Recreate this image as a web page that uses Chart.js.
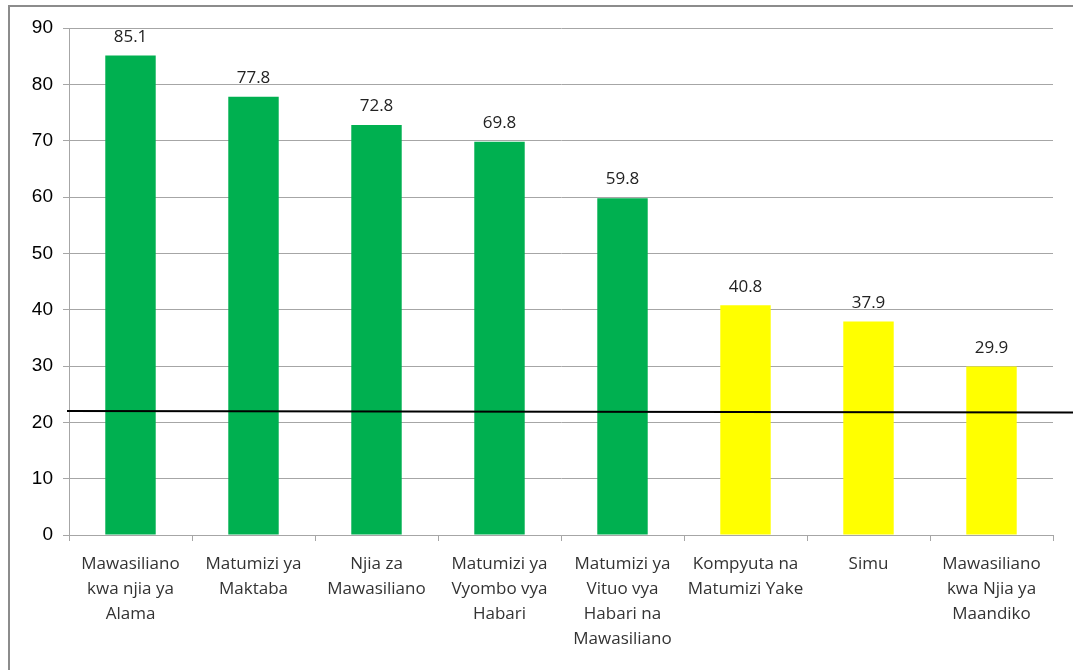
<!DOCTYPE html>
<html>
<head>
<meta charset="utf-8">
<script src="https://cdn.jsdelivr.net/npm/chart.js@4.4.1/dist/chart.umd.min.js"></script>
<style>
  body { margin: 0; background: #fff; }
  #wrap { position: relative; width: 1073px; height: 670px; overflow: hidden; }
  #frame { position: absolute; left: 8px; top: 5px; width: 1200px; height: 800px;
           border-left: 2px solid #8c8c8c; border-top: 2px solid #8c8c8c; }
  canvas { position: absolute; left: 0; top: 0; }
</style>
</head>
<body>
<div id="wrap">
  <div id="frame"></div>
  <canvas id="myChart" width="1073" height="670"></canvas>
</div>
<script>
const categories = [
  ['Mawasiliano', 'kwa njia ya', 'Alama'],
  ['Matumizi ya', 'Maktaba'],
  ['Njia za', 'Mawasiliano'],
  ['Matumizi ya', 'Vyombo vya', 'Habari'],
  ['Matumizi ya', 'Vituo vya', 'Habari na', 'Mawasiliano'],
  ['Kompyuta na', 'Matumizi Yake'],
  ['Simu'],
  ['Mawasiliano', 'kwa Njia ya', 'Maandiko']
];
const values = [85.1, 77.8, 72.8, 69.8, 59.8, 40.8, 37.9, 29.9];
const barColors = ['#00B050', '#00B050', '#00B050', '#00B050', '#00B050', '#FFFF00', '#FFFF00', '#FFFF00'];
const yTicks = [0, 10, 20, 30, 40, 50, 60, 70, 80, 90];
// black reference line, value at left and at right end
const refLine = [22.0, 21.75];

const valueLabels = {
  id: 'valueLabels',
  afterDatasetsDraw(chart) {
    const ctx = chart.ctx;
    const meta = chart.getDatasetMeta(0);
    ctx.save();
    ctx.font = '17px "Open Sans", sans-serif';
    ctx.fillStyle = '#222';
    ctx.textAlign = 'center';
    ctx.textBaseline = 'bottom';
    meta.data.forEach((bar, i) => {
      ctx.fillText(values[i].toFixed(1), bar.x, bar.y - 10);
    });
    ctx.restore();
  }
};

const refLinePlugin = {
  id: 'refLine',
  afterDatasetsDraw(chart) {
    const ctx = chart.ctx;
    const y = chart.scales.y;
    ctx.save();
    ctx.strokeStyle = '#000';
    ctx.lineWidth = 2;
    ctx.beginPath();
    ctx.moveTo(chart.chartArea.left - 2, y.getPixelForValue(refLine[0]));
    ctx.lineTo(chart.width, y.getPixelForValue(refLine[1]));
    ctx.stroke();
    ctx.restore();
  }
};

const ctx = document.getElementById('myChart').getContext('2d');
const myChart = new Chart(ctx, {
  type: 'bar',
  data: {
    labels: categories,
    datasets: [{
      data: values,
      backgroundColor: barColors,
      borderWidth: 0,
      barPercentage: 0.41,
      categoryPercentage: 1
    }]
  },
  options: {
    responsive: false,
    animation: false,
    layout: { padding: { top: 28, right: 20, left: 0, bottom: 0 } },
    plugins: {
      legend: { display: false },
      tooltip: { enabled: false }
    },
    scales: {
      y: {
        min: 0,
        max: 90,
        afterBuildTicks(scale) { scale.ticks = yTicks.map(v => ({ value: v })); },
        afterFit(scale) { scale.width = 69; },
        grid: { color: '#a6a6a6', lineWidth: 1, tickLength: 6 },
        border: { color: '#a6a6a6' },
        ticks: {
          color: '#000',
          padding: 10,
          font: { family: '"Liberation Sans", Arial', size: 19 }
        }
      },
      x: {
        afterFit(scale) { scale.height = 135; },
        grid: { drawOnChartArea: false, offset: true, tickLength: 6, color: '#a6a6a6' },
        border: { color: '#a6a6a6' },
        ticks: {
          color: '#333',
          padding: 11,
          maxRotation: 0,
          autoSkip: false,
          font: { family: '"Open Sans", sans-serif', size: 17, lineHeight: 1.47 }
        }
      }
    }
  },
  plugins: [valueLabels, refLinePlugin]
});
</script>
</body>
</html>
